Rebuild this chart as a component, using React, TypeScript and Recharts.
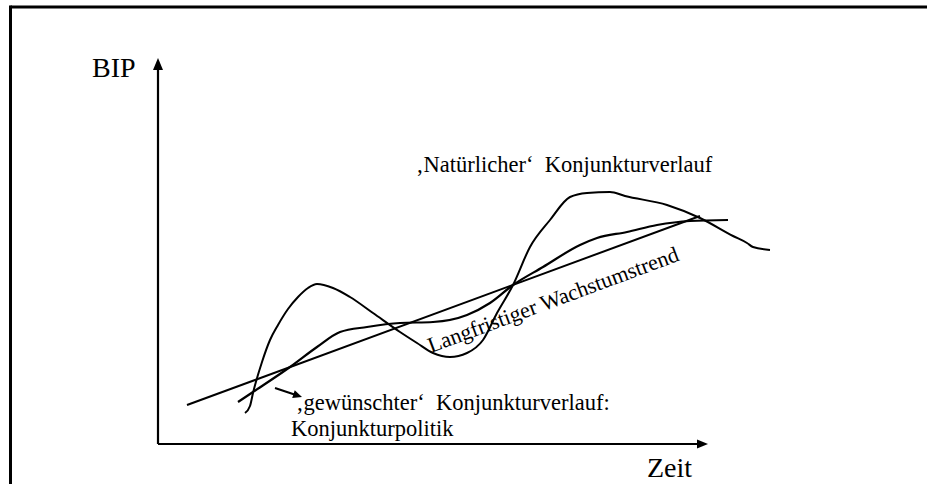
import React from 'react';
import { LineChart, Line, XAxis, YAxis, ReferenceLine } from 'recharts';

// Time (t) and GDP (bip) in arbitrary units
const naturalCycle = [
  { t: 17.4, bip: 6.2 }, { t: 18.4, bip: 7.6 }, { t: 19, bip: 10.2 }, { t: 20.8, bip: 16.4 },
  { t: 22.4, bip: 20.8 }, { t: 24, bip: 23.8 }, { t: 26, bip: 27 }, { t: 28, bip: 29.4 },
  { t: 30, bip: 31.2 }, { t: 31.8, bip: 32 },
  { t: 35, bip: 31.2 }, { t: 38.4, bip: 29.4 }, { t: 43, bip: 26.2 }, { t: 48.4, bip: 22.4 },
  { t: 51.8, bip: 20.2 }, { t: 55, bip: 18.2 }, { t: 58.4, bip: 17.4 }, { t: 61.8, bip: 18.2 },
  { t: 65, bip: 20.8 }, { t: 67.8, bip: 26.2 }, { t: 71, bip: 31.8 }, { t: 74.4, bip: 39.4 },
  { t: 78.4, bip: 44.8 }, { t: 82.4, bip: 49.4 }, { t: 85.8, bip: 50.2 }, { t: 90.4, bip: 50.4 },
  { t: 93.4, bip: 49.6 }, { t: 101.8, bip: 47.8 }, { t: 108.4, bip: 45.2 }, { t: 115, bip: 41.6 },
  { t: 117.8, bip: 40.2 }, { t: 119, bip: 39.4 }, { t: 122.4, bip: 38.8 },
];

const desiredCycle = [
  { t: 16, bip: 8.4 }, { t: 19, bip: 10.4 }, { t: 26.4, bip: 15.4 }, { t: 31.8, bip: 19.4 },
  { t: 36.4, bip: 22.4 }, { t: 41.8, bip: 23.4 }, { t: 48.4, bip: 24.2 }, { t: 55, bip: 24.4 },
  { t: 61.8, bip: 25.8 }, { t: 66.4, bip: 28.2 }, { t: 71, bip: 31.8 }, { t: 77, bip: 35.4 },
  { t: 84.4, bip: 39.8 }, { t: 87.8, bip: 41.2 }, { t: 93.8, bip: 42.4 }, { t: 99.8, bip: 43.8 },
  { t: 106.4, bip: 44.6 }, { t: 114, bip: 44.8 },
];

const trendLine = [
  { t: 5.8, bip: 7.8 },
  { t: 108.4, bip: 45.6 },
];

const yAxisArrow = [{ x: 0, y: 0 }, { x: 0, y: 77.2 }];
const xAxisArrow = [{ x: 0, y: 0 }, { x: 110, y: 0 }];
const pointerArrow = [{ x: 23.4, y: 11.2 }, { x: 28.8, y: 9.4 }];

const labels = {
  yAxis: 'BIP',
  xAxis: 'Zeit',
  natural: '\u201ANatürlicher\u2018\u00A0 Konjunkturverlauf',
  trend: 'Langfristiger Wachstumstrend',
  desired1: '\u201Agewünschter\u2018\u00A0 Konjunkturverlauf:',
  desired2: 'Konjunkturpolitik',
};

const FONT = "'Liberation Serif', 'Times New Roman', Times, 'DejaVu Serif', serif";

const makeArrow = (head: number, half: number, sw: number) => (props: any) => {
  const x1 = Number(props.x1), y1 = Number(props.y1), x2 = Number(props.x2), y2 = Number(props.y2);
  const len = Math.hypot(x2 - x1, y2 - y1) || 1;
  const ux = (x2 - x1) / len, uy = (y2 - y1) / len;
  const bx = x2 - ux * head, by = y2 - uy * head;
  const pts = `${x2},${y2} ${bx - uy * half},${by + ux * half} ${bx + uy * half},${by - ux * half}`;
  return (
    <g>
      <line x1={x1} y1={y1} x2={bx + ux * 1} y2={by + uy * 1} stroke="#000" strokeWidth={sw} />
      <polygon points={pts} fill="#000" />
    </g>
  );
};

const textStyle = { fontFamily: FONT } as React.CSSProperties;

export default function App() {
  return (
    <div style={{ position: 'absolute', left: 0, top: 0, width: 927, height: 484, background: '#fff', fontFamily: FONT }}>
      <LineChart
        width={927}
        height={484}
        margin={{ top: 8, left: 158, right: 19, bottom: 40 }}
        style={{ position: 'absolute', left: 0, top: 0 }}
      >
        <XAxis type="number" dataKey="t" domain={[0, 150]} hide allowDataOverflow />
        <YAxis type="number" dataKey="bip" domain={[0, 87.2]} hide allowDataOverflow />
        <ReferenceLine segment={yAxisArrow} ifOverflow="visible" shape={makeArrow(12, 5, 2.2)} />
        <ReferenceLine segment={xAxisArrow} ifOverflow="visible" shape={makeArrow(11, 4.5, 2.2)} />
        <ReferenceLine segment={pointerArrow} ifOverflow="visible" shape={makeArrow(9, 4, 2)} />
        <Line data={trendLine} dataKey="bip" type="linear" stroke="#000" strokeWidth={2} dot={false} activeDot={false} isAnimationActive={false} />
        <Line data={desiredCycle} dataKey="bip" type="monotone" stroke="#000" strokeWidth={2.2} dot={false} activeDot={false} isAnimationActive={false} />
        <Line data={naturalCycle} dataKey="bip" type="monotone" stroke="#000" strokeWidth={2} dot={false} activeDot={false} isAnimationActive={false} />
      </LineChart>
      <svg width={927} height={484} style={{ position: 'absolute', left: 0, top: 0, pointerEvents: 'none' }}>
        <line x1={10.5} y1={7} x2={927} y2={7} stroke="#000" strokeWidth={3} />
        <line x1={10.5} y1={5.5} x2={10.5} y2={484} stroke="#000" strokeWidth={3} />
        <g fill="#000">
          <text x={92} y={77} fontSize={28} style={textStyle}>{labels.yAxis}</text>
          <text x={647} y={477} fontSize={28} style={textStyle}>{labels.xAxis}</text>
          <text x={416} y={172} fontSize={22.5} style={textStyle}>{labels.natural}</text>
          <text x={431} y={353} fontSize={22} style={textStyle} transform="rotate(-20.4 431 353)">{labels.trend}</text>
          <text x={296} y={410} fontSize={22.5} style={textStyle}>{labels.desired1}</text>
          <text x={291} y={436} fontSize={22.5} style={textStyle}>{labels.desired2}</text>
        </g>
      </svg>
    </div>
  );
}
